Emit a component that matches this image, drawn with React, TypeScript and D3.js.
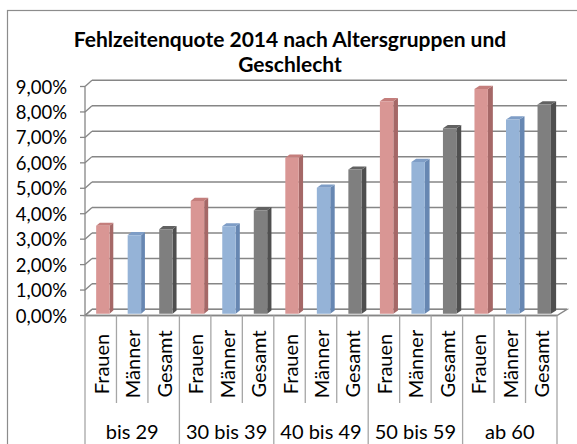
import React from "react";
import * as d3 from "d3";

const title = ["Fehlzeitenquote 2014 nach Altersgruppen und", "Geschlecht"];
const groups = ["bis 29", "30 bis 39", "40 bis 49", "50 bis 59", "ab 60"];
const series = ["Frauen", "Männer", "Gesamt"];
const frauen = [3.45, 4.43, 6.13, 8.35, 8.83];
const maenner = [3.08, 3.43, 4.95, 5.96, 7.63];
const gesamt = [3.32, 4.06, 5.66, 7.29, 8.22];
const yTicks = [0, 1, 2, 3, 4, 5, 6, 7, 8, 9];

const colors: Record<string, { front: string; side: string; top: string }> = {
  Frauen: { front: "#D99694", side: "#A56867", top: "#C47E7C" },
  Männer: { front: "#95B3D7", side: "#6787B2", top: "#7E9DC6" },
  Gesamt: { front: "#7F7F7F", side: "#4F4F4F", top: "#626262" },
};

const fmt = d3
  .formatLocale({ decimal: ",", thousands: ".", grouping: [3], currency: ["", "€"] })
  .format(".2%");

export default function App() {
  const W = 577;
  const H = 444;
  const font = "Lato, 'Open Sans', sans-serif";
  const valuesBySeries: Record<string, number[]> = {
    Frauen: frauen,
    Männer: maenner,
    Gesamt: gesamt,
  };
  const cats = groups.flatMap((g, gi) =>
    series.map((s) => ({ key: `${g}|${s}`, group: g, gi, series: s, value: valuesBySeries[s][gi] }))
  );

  const x0 = 85;
  const x1 = 557;
  const x = d3.scaleBand<string>().domain(cats.map((c) => c.key)).range([x0, x1]).padding(0);
  const y = d3.scaleLinear().domain([0, 9]).range([315.5, 86.5]);
  const DY = 6.2;
  const DX = (px: number) => 7 + (3 * (px - x0)) / (x1 - x0);
  const P = (px: number, v: number, z: number): [number, number] => [px + z * DX(px), y(v) - z * DY];
  const pts = (a: [number, number][]) => a.map((p) => p.join(",")).join(" ");

  const bw = x.bandwidth();
  const barW = 13.4;
  const z0 = 0.3;
  const z1 = 0.82;
  const grid = "#868686";

  return (
    <svg width={W} height={H} style={{ position: "absolute", left: 0, top: 0 }}>
      <rect x={0} y={0} width={W} height={H} fill="#fff" />
      <rect x={7.5} y={10.5} width={W + 20} height={H + 20} fill="none" stroke="#8C8C8C" strokeWidth={1.2} />
      {title.map((t, i) => (
        <text key={i} x={290} y={38 + i * 25} textAnchor="middle" dominantBaseline="central"
          fontFamily={font} fontWeight="bold" fontSize={21} fill="#000">
          {t}
        </text>
      ))}
      {/* floor */}
      <polygon points={pts([P(x0, 0, 0), P(x1, 0, 0), P(x1, 0, 1), P(x0, 0, 1)])} fill="none" stroke={grid} strokeWidth={1.3} />
      {/* back wall gridlines & side wall diagonals */}
      {yTicks.map((t) => (
        <g key={t}>
          <line x1={P(x0, t, 1)[0]} y1={P(x0, t, 1)[1]} x2={P(x1, t, 1)[0]} y2={P(x1, t, 1)[1]} stroke={grid} strokeWidth={1.5} />
          <line x1={x0} y1={y(t)} x2={P(x0, t, 1)[0]} y2={P(x0, t, 1)[1]} stroke={grid} strokeWidth={1.3} />
          <line x1={x0 - 5} y1={y(t)} x2={x0} y2={y(t)} stroke={grid} strokeWidth={1.3} />
          <text x={67} y={y(t)} textAnchor="end" dominantBaseline="central" fontFamily={font} fontSize={18.5} fill="#000">
            {fmt(t / 100)}
          </text>
        </g>
      ))}
      <line x1={x0} y1={y(0)} x2={x0} y2={y(9)} stroke={grid} strokeWidth={1.3} />
      {/* bars */}
      {cats.map((c) => {
        const c0 = (x(c.key) as number) + (bw - barW) / 2;
        const l = c0;
        const r = c0 + barW;
        const col = colors[c.series];
        return (
          <g key={c.key}>
            <polygon points={pts([P(r, 0, z0), P(r, 0, z1), P(r, c.value, z1), P(r, c.value, z0)])} fill={col.side} />
            <polygon points={pts([P(l, c.value, z0), P(r, c.value, z0), P(r, c.value, z1), P(l, c.value, z1)])} fill={col.top} />
            <polygon points={pts([P(l, 0, z0), P(r, 0, z0), P(r, c.value, z0), P(l, c.value, z0)])} fill={col.front} />
          </g>
        );
      })}
      {/* category axis */}
      <line x1={x0} y1={y(0)} x2={x1} y2={y(0)} stroke={grid} strokeWidth={1.3} />
      {d3.range(cats.length + 1).map((i) => {
        const px = x0 + i * bw;
        const isGroup = i % 3 === 0;
        return (
          <line key={i} x1={px} y1={y(0)} x2={px} y2={isGroup ? H + 5 : 403} stroke="#A6A6A6" strokeWidth={1.3} />
        );
      })}
      {cats.map((c) => {
        const cx = (x(c.key) as number) + bw / 2;
        return (
          <text key={c.key} transform={`translate(${cx},364) rotate(-90)`} textAnchor="middle"
            dominantBaseline="central" fontFamily={font} fontSize={20} fill="#000">
            {c.series}
          </text>
        );
      })}
      {groups.map((g, gi) => {
        const cx = x0 + (gi * 3 + 1.5) * bw;
        return (
          <text key={g} x={cx} y={431} textAnchor="middle" dominantBaseline="central" fontFamily={font} fontSize={20} fill="#000">
            {g}
          </text>
        );
      })}
    </svg>
  );
}
